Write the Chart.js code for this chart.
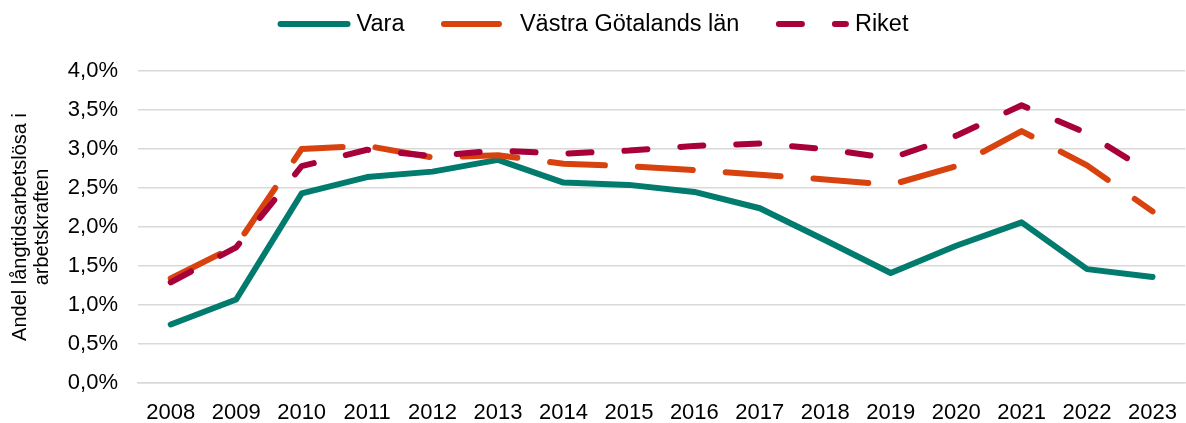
<!DOCTYPE html>
<html>
<head>
<meta charset="utf-8">
<script src="https://cdn.jsdelivr.net/npm/chart.js@4/dist/chart.umd.min.js"></script>
<style>
  html, body { margin: 0; padding: 0; background: #fff; }
  #wrap { width: 1186px; height: 423px; }
</style>
</head>
<body>
<div id="wrap"><canvas id="chart" width="1186" height="423"></canvas></div>
<script>
// Andel långtidsarbetslösa i arbetskraften, procent
const years = ["2008", "2009", "2010", "2011", "2012", "2013", "2014", "2015",
  "2016", "2017", "2018", "2019", "2020", "2021", "2022", "2023"]
const vara = [0.75, 1.07, 2.43, 2.64, 2.71, 2.86, 2.57, 2.54, 2.45, 2.24, 1.83, 1.41, 1.76, 2.06, 1.46, 1.36]
const vastraGotaland = [1.34, 1.76, 3.0, 3.04, 2.89, 2.92, 2.81, 2.78, 2.73, 2.67, 2.61, 2.54, 2.78, 3.23, 2.79, 2.2]
const riket = [1.29, 1.74, 2.78, 2.99, 2.91, 2.98, 2.94, 2.98, 3.04, 3.07, 3.0, 2.88, 3.17, 3.56, 3.2, 2.68]
const yTicks = [0, 0.5, 1, 1.5, 2, 2.5, 3, 3.5, 4]

const fontFamily = "'Liberation Sans', Arial, sans-serif"
Chart.defaults.font.family = fontFamily
Chart.defaults.color = "#000"

// Legend drawn on top, lines use the same dash as the series
const topLegend = {
  id: "topLegend",
  afterDraw(chart) {
    const ctx = chart.ctx
    const lineLen = 73
    const textGap = 6
    const itemGap = 36.5
    const y = 24
    ctx.save()
    ctx.font = "23.5px " + fontFamily
    const items = chart.data.datasets
    const widths = items.map((d) => lineLen + textGap + ctx.measureText(d.label).width)
    const total = widths.reduce((a, b) => a + b, 0) + itemGap * (items.length - 1)
    let x = (chart.width - total) / 2
    items.forEach((d, i) => {
      ctx.beginPath()
      ctx.strokeStyle = d.borderColor
      ctx.lineWidth = d.borderWidth
      ctx.lineCap = "round"
      ctx.setLineDash(d.borderDash || [])
      ctx.moveTo(x + 3, y)
      ctx.lineTo(x + lineLen - 3, y)
      ctx.stroke()
      ctx.setLineDash([])
      ctx.fillStyle = "#000"
      ctx.textAlign = "left"
      ctx.textBaseline = "middle"
      ctx.fillText(d.label, x + lineLen + textGap, y + 1)
      x += widths[i] + itemGap
    })
    ctx.restore()
  },
}

const ctx = document.getElementById("chart").getContext("2d")
new Chart(ctx, {
  type: "line",
  data: {
    labels: years,
    datasets: [
      {
        label: "Vara",
        data: vara,
        borderColor: "#007b6e",
        borderWidth: 6,
        order: 3,
      },
      {
        label: "Västra Götalands län",
        data: vastraGotaland,
        borderColor: "#d8420f",
        borderWidth: 6,
        borderDash: [55, 33],
        order: 2,
      },
      {
        label: "Riket",
        data: riket,
        borderColor: "#a8003b",
        borderWidth: 6,
        borderDash: [23, 33],
        order: 1,
      },
    ],
  },
  options: {
    responsive: false,
    animation: false,
    devicePixelRatio: 1,
    layout: { padding: { top: 71, right: 0, left: 0, bottom: 0 } },
    elements: {
      line: { tension: 0, borderCapStyle: "round", borderJoinStyle: "round", fill: false },
      point: { radius: 0, hoverRadius: 0 },
    },
    plugins: {
      legend: { display: false },
      tooltip: { enabled: false },
    },
    scales: {
      x: {
        offset: true,
        grid: { display: false },
        border: { display: true, color: "#d9d9d9", width: 1.5 },
        ticks: { font: { size: 22 }, padding: 9, maxRotation: 0, autoSkip: false },
        afterFit: (s) => { s.height = 40 },
      },
      y: {
        min: 0,
        max: 4,
        afterBuildTicks: (s) => { s.ticks = yTicks.map((v) => ({ value: v })) },
        ticks: {
          font: { size: 22 },
          padding: 20,
          callback: (v) => v.toFixed(1).replace(".", ",") + "%",
        },
        grid: { color: "#d9d9d9", lineWidth: 1.5, drawTicks: false },
        border: { display: false },
        title: {
          display: true,
          text: ["Andel långtidsarbetslösa i", "arbetskraften"],
          font: { size: 20, lineHeight: 1.1 },
          padding: { top: 9, bottom: 0 },
        },
        afterFit: (s) => { s.width = 138 },
      },
    },
  },
  plugins: [topLegend],
})
</script>
</body>
</html>
